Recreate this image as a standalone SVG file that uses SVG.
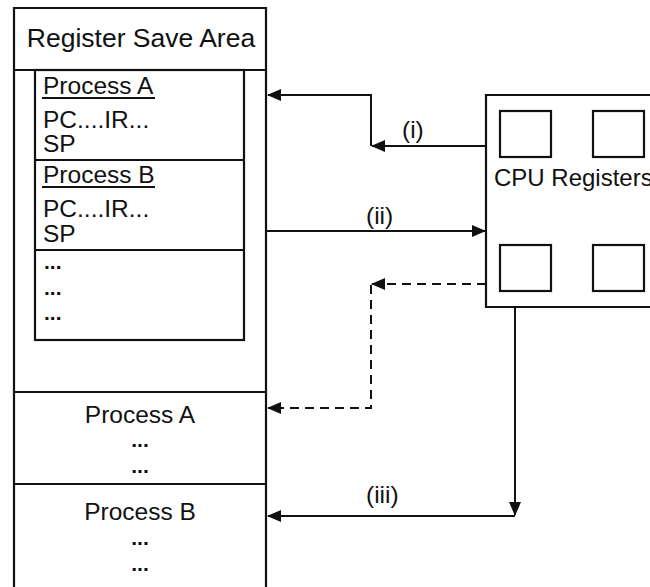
<svg xmlns="http://www.w3.org/2000/svg" width="650" height="587" viewBox="0 0 650 587">
<style>
  .box{fill:none;stroke:#111;stroke-width:2.2}
  .ln{fill:none;stroke:#111;stroke-width:2}
  .dash{fill:none;stroke:#111;stroke-width:2;stroke-dasharray:9,6}
  .t{font-family:"Liberation Sans",Arial,sans-serif;font-size:24.5px;fill:#111}
  .h{font-size:26.5px}
  .c{text-anchor:middle}
  .d{font-weight:bold;font-size:21px}
</style>
<defs>
  <marker id="ah" markerWidth="14" markerHeight="12" refX="13" refY="6" orient="auto" markerUnits="userSpaceOnUse">
    <path d="M0,0 L14,6 L0,12 Z" fill="#111"/>
  </marker>
</defs>
<rect width="650" height="587" fill="#fff"/>

<g id="save-area">
  <path class="box" d="M14,600 V8 H266 V600"/>
  <line class="box" x1="14" y1="70" x2="266" y2="70"/>
  <text class="t h c" x="141" y="47">Register Save Area</text>
</g>

<g id="pcb-table">
  <rect class="box" x="35" y="70" width="209" height="270"/>
  <line class="box" x1="35" y1="160" x2="244" y2="160"/>
  <line class="box" x1="35" y1="250" x2="244" y2="250"/>
  <text class="t" x="43" y="94">Process A</text>
  <line class="ln" x1="42" y1="98" x2="155" y2="98" stroke-width="1.6"/>
  <text class="t" x="43" y="128">PC....IR...</text>
  <text class="t" x="43" y="152">SP</text>
  <text class="t" x="43" y="183">Process B</text>
  <line class="ln" x1="42" y1="187" x2="155" y2="187" stroke-width="1.6"/>
  <text class="t" x="43" y="217">PC....IR...</text>
  <text class="t" x="43" y="242">SP</text>
  <text class="t d" x="44" y="269">...</text>
  <text class="t d" x="44" y="295">...</text>
  <text class="t d" x="44" y="320">...</text>
</g>

<g id="process-a">
  <line class="box" x1="14" y1="392" x2="266" y2="392"/>
  <text class="t c" x="140" y="423">Process A</text>
  <text class="t c d" x="140" y="447">...</text>
  <text class="t c d" x="140" y="473">...</text>
</g>

<g id="process-b">
  <line class="box" x1="14" y1="484" x2="266" y2="484"/>
  <text class="t c" x="140" y="520">Process B</text>
  <text class="t c d" x="140" y="545">...</text>
  <text class="t c d" x="140" y="571">...</text>
</g>

<g id="cpu-registers">
  <path class="box" d="M660,95 H486 V307 H660"/>
  <rect class="box" x="500" y="111" width="51" height="46"/>
  <rect class="box" x="593" y="111" width="51" height="46"/>
  <rect class="box" x="500" y="245" width="51" height="46"/>
  <rect class="box" x="593" y="245" width="51" height="46"/>
  <text class="t" x="494" y="186" style="font-size:24px">CPU Registers</text>
</g>

<g id="connectors">
  <path class="ln" d="M486,146 H372" marker-end="url(#ah)"/>
  <path class="ln" d="M371,146 V95 H268" marker-end="url(#ah)"/>
  <text class="t" x="402" y="138">(i)</text>
  <path class="ln" d="M266,231 H485" marker-end="url(#ah)"/>
  <text class="t" x="366" y="224">(ii)</text>
  <path class="dash" d="M486,284 H372" marker-end="url(#ah)"/>
  <path class="dash" d="M371,285 V408 H268" marker-end="url(#ah)"/>
  <path class="ln" d="M515,307 V515" marker-end="url(#ah)"/>
  <path class="ln" d="M515,516 H268" marker-end="url(#ah)"/>
  <text class="t" x="366" y="503">(iii)</text>
</g>
</svg>
